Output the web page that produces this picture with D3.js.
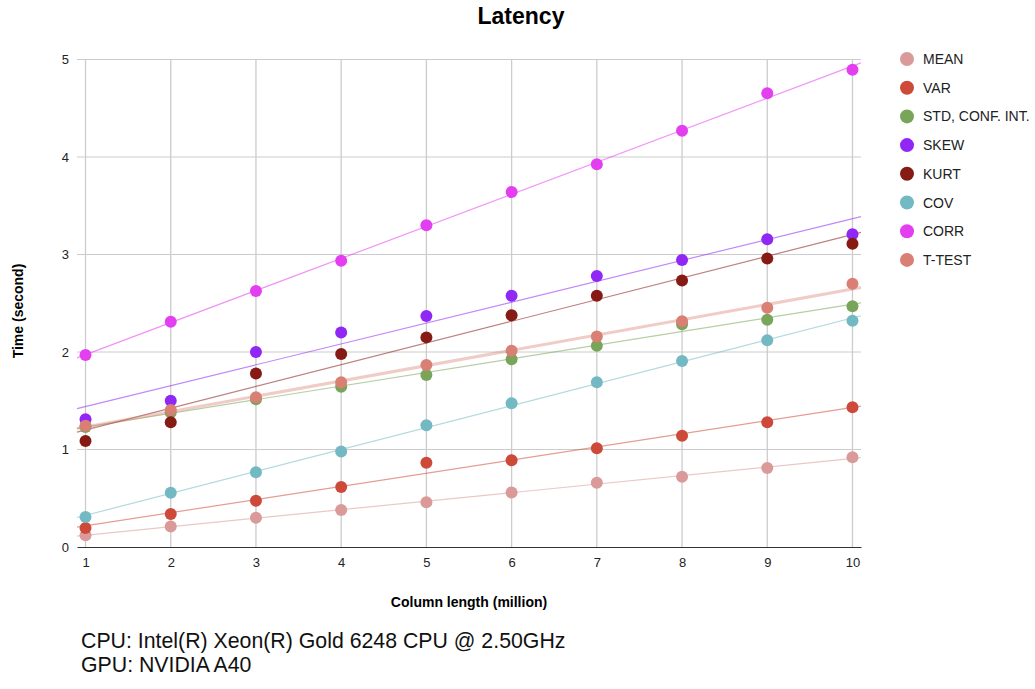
<!DOCTYPE html>
<html><head><meta charset="utf-8">
<script src="https://cdn.jsdelivr.net/npm/d3@7"></script>
<style>body{margin:0;background:#fff;font-family:"Liberation Sans",Arial,sans-serif;}</style>
</head><body><svg id="c" width="1035" height="689"></svg>
<script>
const xValues = [1,2,3,4,5,6,7,8,9,10];
const seriesNames = ["MEAN","VAR","STD, CONF. INT.","SKEW","KURT","COV","CORR","T-TEST"];
const seriesColors = ["#d99a99","#cd4a3a","#78a55a","#9027f5","#861a14","#72b9c4","#e33ef0","#d97f74"];
const meanVals = [0.12,0.21,0.30,0.38,0.46,0.56,0.66,0.72,0.81,0.92];
const varVals  = [0.195,0.338,0.475,0.615,0.865,0.889,1.012,1.142,1.279,1.433];
const stdVals  = [1.23,1.38,1.515,1.644,1.764,1.925,2.065,2.284,2.331,2.469];
const skewVals = [1.31,1.50,2.00,2.20,2.37,2.577,2.78,2.943,3.156,3.207];
const kurtVals = [1.087,1.28,1.78,1.98,2.15,2.376,2.576,2.733,2.96,3.11];
const covVals  = [0.308,0.557,0.766,0.98,1.248,1.474,1.689,1.908,2.12,2.321];
const corrVals = [1.97,2.31,2.626,2.937,3.30,3.64,3.925,4.27,4.653,4.895];
const ttestVals= [1.244,1.405,1.535,1.69,1.867,2.013,2.16,2.315,2.455,2.70];
const yTicks = [0,1,2,3,4,5];
const allVals = [meanVals,varVals,stdVals,skewVals,kurtVals,covVals,corrVals,ttestVals];

const FONT = "Liberation Sans, Arial, sans-serif";
const svg = d3.select("#c");
const x = d3.scaleLinear().domain([0.9,10.1]).range([77,861]);
const y = d3.scaleLinear().domain([0,5]).range([547,59.5]);

// gridlines
svg.append("g").selectAll("line").data(yTicks.slice(1)).join("line")
  .attr("x1",77).attr("x2",861).attr("y1",d=>y(d)).attr("y2",d=>y(d))
  .attr("stroke","#cccccc").attr("stroke-width",1);
svg.append("g").selectAll("line").data(xValues).join("line")
  .attr("x1",d=>x(d)).attr("x2",d=>x(d)).attr("y1",y(5)).attr("y2",y(0))
  .attr("stroke","#cccccc").attr("stroke-width",1.3);

// axes
const xa = svg.append("g").attr("transform",`translate(0,${y(0)})`)
  .call(d3.axisBottom(x).tickValues(xValues).tickSize(0).tickPadding(11).tickFormat(d3.format("d")));
xa.select(".domain").attr("stroke","#333").attr("stroke-width",1.2);
xa.selectAll("text").attr("font-family",FONT).attr("font-size",13).attr("fill","#222");
const ya = svg.append("g").attr("transform","translate(77,0)")
  .call(d3.axisLeft(y).tickValues(yTicks).tickSize(0).tickPadding(8).tickFormat(d3.format("d")));
ya.select(".domain").remove();
ya.selectAll("text").attr("font-family",FONT).attr("font-size",13).attr("fill","#222");

// trendlines (least squares)
function fit(vals){
  const n=vals.length, mx=d3.mean(xValues), my=d3.mean(vals);
  let sxy=0,sxx=0;
  for(let i=0;i<n;i++){sxy+=(xValues[i]-mx)*(vals[i]-my);sxx+=(xValues[i]-mx)**2;}
  const b=sxy/sxx, a=my-b*mx; return t=>a+b*t;
}
const xd = x.domain();
allVals.forEach((vals,i)=>{
  const f=fit(vals);
  const isT = seriesNames[i]==="T-TEST";
  svg.append("line").attr("x1",x(xd[0])).attr("x2",x(xd[1]))
    .attr("y1",y(f(xd[0]))).attr("y2",y(f(xd[1])))
    .attr("stroke",seriesColors[i]).attr("stroke-opacity",isT?0.4:0.55)
    .attr("stroke-width",isT?3:1.2);
});

// points
allVals.forEach((vals,i)=>{
  svg.append("g").selectAll("circle").data(vals).join("circle")
    .attr("cx",(d,j)=>x(xValues[j])).attr("cy",d=>y(d)).attr("r",6)
    .attr("fill",seriesColors[i]);
});

// legend
const lg = svg.append("g");
seriesNames.forEach((n,i)=>{
  const yy = 59 + i*28.7;
  lg.append("circle").attr("cx",907).attr("cy",yy).attr("r",7).attr("fill",seriesColors[i]);
  lg.append("text").attr("x",923).attr("y",yy+5).text(n)
    .attr("font-family",FONT).attr("font-size",14).attr("fill","#222");
});

// titles
svg.append("text").attr("x",521).attr("y",23.5).attr("text-anchor","middle").text("Latency")
  .attr("font-family",FONT).attr("font-weight","bold").attr("font-size",23).attr("fill","#000");
svg.append("text").attr("x",469).attr("y",607).attr("text-anchor","middle").text("Column length (million)")
  .attr("font-family",FONT).attr("font-weight","bold").attr("font-size",14).attr("fill","#000");
svg.append("text").attr("transform","translate(23,311) rotate(-90)").attr("text-anchor","middle").text("Time (second)")
  .attr("font-family",FONT).attr("font-weight","bold").attr("font-size",14).attr("fill","#000");
svg.append("text").attr("x",81).attr("y",648).text("CPU: Intel(R) Xeon(R) Gold 6248 CPU @ 2.50GHz")
  .attr("font-family",FONT).attr("font-size",21.3).attr("fill","#111");
svg.append("text").attr("x",81).attr("y",672).text("GPU: NVIDIA A40")
  .attr("font-family",FONT).attr("font-size",21.3).attr("fill","#111");
</script></body></html>
